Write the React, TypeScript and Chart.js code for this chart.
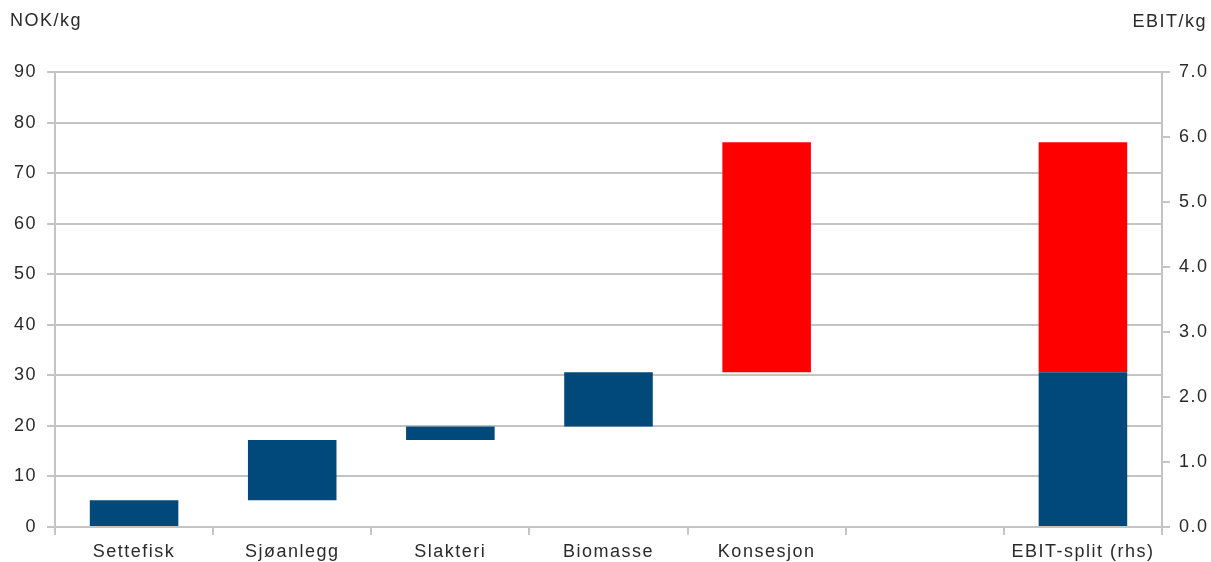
import React, { useEffect, useRef } from 'react';
import { Chart, registerables } from 'chart.js';

Chart.register(...registerables);

// Kategorier og verdier (lest fra figuren)
const categories = ['Settefisk', 'Sjøanlegg', 'Slakteri', 'Biomasse', 'Konsesjon', '', 'EBIT-split (rhs)'];

// Flytende søyler i NOK/kg: [fra, til]
const costSteps: ([number, number] | null)[] = [[0, 5.3], [5.3, 17.2], [17.2, 19.9], [19.9, 30.6], null, null, null];
const licenceStep: ([number, number] | null)[] = [null, null, null, null, [30.6, 76.1], null, null];

// EBIT-split på høyre akse (EBIT/kg)
const ebitBase: ([number, number] | null)[] = [null, null, null, null, null, null, [0, 2.38]];
const ebitLicence: ([number, number] | null)[] = [null, null, null, null, null, null, [2.38, 5.92]];

const leftTicks = { min: 0, max: 90, step: 10 };
const rightTicks = { min: 0, max: 7, step: 1 };

const BLUE = '#01497b';
const RED = '#ff0000';
const GRID = '#c4c4c4';
const TEXT = '#2a2a2a';
const FONT = "'Liberation Sans', Arial, sans-serif";
const SPACING = '1.5px';

// Bokstavavstand som i originalen + aksetitler øverst
const textStyle = {
  id: 'textStyle',
  beforeLayout(chart: Chart) {
    (chart.ctx as any).letterSpacing = SPACING;
  },
  beforeDraw(chart: Chart) {
    (chart.ctx as any).letterSpacing = SPACING;
  },
  afterDraw(chart: Chart) {
    const ctx = chart.ctx;
    ctx.save();
    (ctx as any).letterSpacing = SPACING;
    ctx.fillStyle = TEXT;
    ctx.font = `18px ${FONT}`;
    ctx.textBaseline = 'middle';
    ctx.textAlign = 'left';
    ctx.fillText('NOK/kg', 10, 21);
    ctx.textAlign = 'right';
    ctx.fillText('EBIT/kg', 1207, 22);
    ctx.restore();
  },
};

export default function App() {
  const chartRef = useRef<HTMLCanvasElement>(null);
  const chartInstance = useRef<Chart | null>(null);

  useEffect(() => {
    document.body.style.margin = '0';
    if (!chartRef.current) return;
    if (chartInstance.current) chartInstance.current.destroy();

    const ctx = chartRef.current.getContext('2d');
    if (!ctx) return;

    const barOpts = { grouped: false, barPercentage: 1, categoryPercentage: 0.56, borderWidth: 0 };
    const tickFont = { family: FONT, size: 18 };

    chartInstance.current = new Chart(ctx, {
      type: 'bar',
      data: {
        labels: categories,
        datasets: [
          { label: 'Kostnad', data: costSteps as any, backgroundColor: BLUE, yAxisID: 'y', ...barOpts },
          { label: 'Konsesjon', data: licenceStep as any, backgroundColor: RED, yAxisID: 'y', ...barOpts },
          { label: 'EBIT drift', data: ebitBase as any, backgroundColor: BLUE, yAxisID: 'y1', ...barOpts },
          { label: 'EBIT konsesjon', data: ebitLicence as any, backgroundColor: RED, yAxisID: 'y1', ...barOpts },
        ],
      },
      options: {
        responsive: true,
        maintainAspectRatio: false,
        animation: false,
        layout: { padding: { top: 72, left: 0, right: 0, bottom: 0 } },
        plugins: {
          legend: { display: false },
          tooltip: { enabled: false },
        },
        scales: {
          x: {
            offset: true,
            afterFit: (s: any) => { s.height = 35; },
            grid: { offset: true, drawOnChartArea: false, color: GRID, lineWidth: 2, tickLength: 8 },
            border: { color: GRID, width: 2 },
            ticks: { color: TEXT, font: tickFont, padding: 6, maxRotation: 0, autoSkip: false },
          },
          y: {
            position: 'left',
            min: leftTicks.min,
            max: leftTicks.max,
            afterFit: (s: any) => { s.width = 55; },
            ticks: { stepSize: leftTicks.step, color: TEXT, font: tickFont, padding: 10 },
            grid: { color: GRID, lineWidth: 2, tickLength: 8 },
            border: { color: GRID, width: 2 },
          },
          y1: {
            position: 'right',
            min: rightTicks.min,
            max: rightTicks.max,
            afterFit: (s: any) => { s.width = 49; },
            ticks: {
              stepSize: rightTicks.step,
              color: TEXT,
              font: tickFont,
              padding: 9,
              callback: (v: any) => Number(v).toFixed(1),
            },
            grid: { drawOnChartArea: false, color: GRID, lineWidth: 2, tickLength: 8 },
            border: { color: GRID, width: 2 },
          },
        },
      },
      plugins: [textStyle],
    });

    return () => {
      if (chartInstance.current) {
        chartInstance.current.destroy();
        chartInstance.current = null;
      }
    };
  }, []);

  return (
    <div style={{ width: 1211, height: 562, position: 'relative', background: '#fff' }}>
      <canvas ref={chartRef}></canvas>
    </div>
  );
}
